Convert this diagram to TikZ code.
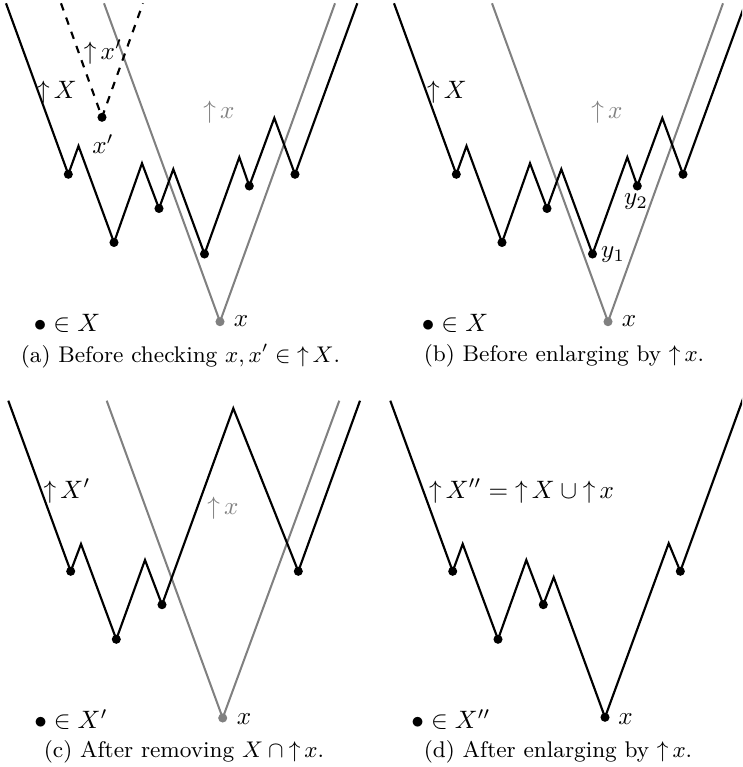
\documentclass[tikz,border=0pt]{standalone}
\newcommand{\upset}{\mathop{\uparrow}\nolimits}
\begin{document}
\begin{tikzpicture}[x=0.397pt,y=-0.397pt,
  bl/.style={line width=0.85pt, line join=miter},
  gr/.style={gray, line width=0.8pt},
  dsh/.style={line width=0.85pt, dashed},
  pt/.style={circle, fill=black, inner sep=0pt, minimum size=3.6pt},
  gpt/.style={circle, fill=gray, inner sep=0pt, minimum size=3.6pt},
  lab/.style={font=\normalsize, inner sep=0pt},
  captext/.style={font=\small, inner sep=0pt}]
\useasboundingbox (0,0) rectangle (742,767);
\clip (0,0) rectangle (742,767);

% ---------- panel (a) ----------
\draw[gr] (104,3.3) -- (220,321.7) -- (335,3.3);
\draw[dsh] (61,3.3) -- (102,117.3) -- (143,3.3);
\draw[bl] (6,3.3) -- (68.3,174.3) -- (78.5,146) -- (114,242.5) -- (142,163.3) -- (159,208.5) -- (173.3,169.2) -- (204.5,254) -- (239.3,157.3) -- (249.3,186) -- (274.3,118) -- (295,174.3) -- (357.3,3.3);
\foreach \p in {(68.3,174.3),(114,242.5),(159,208.5),(204.5,254),(249.3,186),(295,174.3),(102,117.3)} \node[pt] at \p {};
\node[gpt] (xa) at (220,321.7) {};
\node[lab] at (103,52) {$\upset x'$};
\node[lab] at (57,92) {$\upset X$};
\node[lab] at (103,144) {$x'$};
\node[lab, text=gray] at (219,112) {$\upset x$};
\node[lab] at (241,321) {$x$};
\node[lab] at (67,323) {$\bullet \in X$};
\node[captext] at (180.5,356) {(a) Before checking $x, x' \in \upset X$.};

% ---------- panel (b) ----------
\draw[gr] (492,3.3) -- (608,321.7) -- (723,3.3);
\draw[bl] (394,3.3) -- (456.3,174.3) -- (466.5,146) -- (502,242.5) -- (530,163.3) -- (547,208.5) -- (561.3,169.2) -- (592.5,254) -- (627.3,157.3) -- (637.3,186) -- (662.3,118) -- (683,174.3) -- (745.3,3.3);
\foreach \p in {(456.3,174.3),(502,242.5),(547,208.5),(592.5,254),(637.3,186),(683,174.3)} \node[pt] at \p {};
\node[gpt] (xb) at (608,321.7) {};
\node[lab] at (447,92) {$\upset X$};
\node[lab, text=gray] at (607,112) {$\upset x$};
\node[lab] at (613,255) {$y_1$};
\node[lab] at (636,202) {$y_2$};
\node[lab] at (629,321.5) {$x$};
\node[lab] at (455,323) {$\bullet \in X$};
\node[captext] at (564,356) {(b) Before enlarging by $\upset x$.};

% ---------- panel (c) ----------
\draw[gr] (106.7,400.7) -- (222.7,718) -- (339.3,400.7);
\draw[bl] (8.3,400.7) -- (70.7,571.3) -- (81,544) -- (116.3,639.3) -- (145,560) -- (162,604.7) -- (233.3,408.3) -- (298.3,571.3) -- (360,400.7);
\foreach \p in {(70.7,571.3),(116.3,639.3),(162,604.7),(298.3,571.3)} \node[pt] at \p {};
\node[gpt] (xc) at (222.7,718) {};
\node[lab] at (67,491) {$\upset X'$};
\node[lab, text=gray] at (223,508) {$\upset x$};
\node[lab] at (244,719) {$x$};
\node[lab] at (71,720) {$\bullet \in X'$};
\node[captext] at (184,752) {(c) After removing $X \cap \upset x$.};

% ---------- panel (d) ----------
\draw[bl] (390.3,400.7) -- (452.7,571.3) -- (462.7,544) -- (498,639.3) -- (526.3,560) -- (543.3,604.7) -- (553.7,577.3) -- (605,717.3) -- (668.7,543.3) -- (680.3,571.3) -- (744,396);
\foreach \p in {(452.7,571.3),(498,639.3),(543.3,604.7),(680.3,571.3),(605,717.3)} \node[pt] at \p {};
\node[lab] at (521.5,491) {$\upset X'' = \upset X \cup \upset x$};
\node[lab] at (451,720) {$\bullet \in X''$};
\node[lab] at (625.5,719) {$x$};
\node[captext] at (558,752) {(d) After enlarging by $\upset x$.};
\end{tikzpicture}
\end{document}
